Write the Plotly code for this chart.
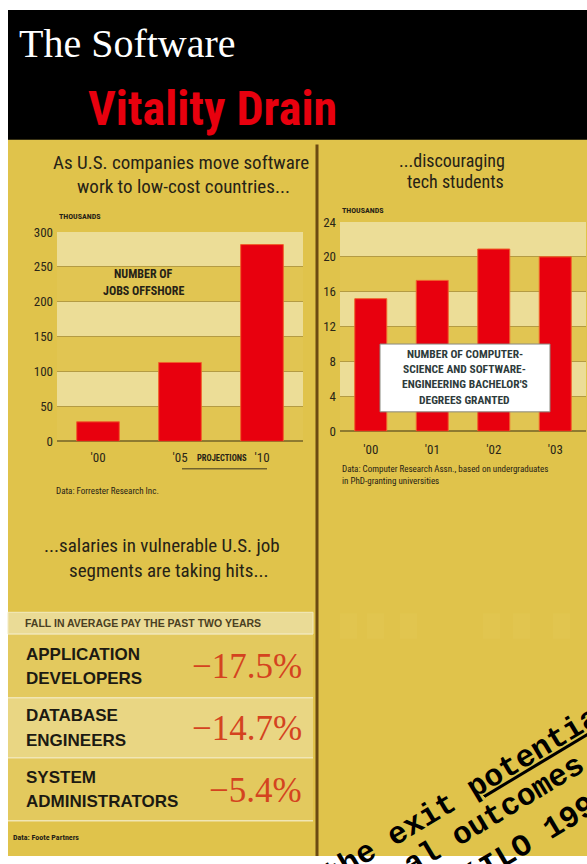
import plotly.graph_objects as go

W, H = 587, 864

# ---------------- data ----------------
jobs_years = ["'00", "'05", "'10"]
jobs_offshore = [28, 113, 282]            # thousands of jobs offshore
jobs_ticks = [0, 50, 100, 150, 200, 250, 300]

degree_years = ["'00", "'01", "'02", "'03"]
degrees = [15.2, 17.3, 20.9, 20.0]        # thousands of bachelor's degrees
degree_ticks = [0, 4, 8, 12, 16, 20, 24]

pay_roles = ["APPLICATION DEVELOPERS", "DATABASE ENGINEERS", "SYSTEM ADMINISTRATORS"]
pay_change = [-17.5, -14.7, -5.4]         # percent

# ---------------- styles ----------------
COND = "Liberation Sans Narrow, Roboto Condensed, DejaVu Sans Condensed, Liberation Sans, sans-serif"
SANS = "Liberation Sans, Arial, sans-serif"
SERIF = "Liberation Serif, Times New Roman, serif"
MONO = "Liberation Mono, Courier New, monospace"
BG = "#E0C34B"
LIGHT = "#ECDD97"
DARKBAND = "#E1C552"
GRID = "#B49B43"
RED = "#E8000E"
INK = "#262216"


def px(x):
    return x / W


def py(y):
    return 1 - y / H


shapes = []
annots = []


def rect(x0, y0, x1, y1, fill, line=None, lw=0, layer="below"):
    shapes.append(dict(type="rect", xref="paper", yref="paper",
                       x0=px(x0), x1=px(x1), y0=py(y1), y1=py(y0),
                       fillcolor=fill, line=dict(color=line or fill, width=lw),
                       layer=layer))


def hline(x0, x1, y, color, lw=1, layer="below"):
    shapes.append(dict(type="line", xref="paper", yref="paper",
                       x0=px(x0), x1=px(x1), y0=py(y), y1=py(y),
                       line=dict(color=color, width=lw), layer=layer))


def txt(s, x, y, size, color=INK, family=COND, xa="center", ya="middle",
        weight="normal", angle=0):
    annots.append(dict(text=s, x=px(x), y=py(y), xref="paper", yref="paper",
                       xanchor=xa, yanchor=ya, showarrow=False,
                       font=dict(size=size, color=color, family=family, weight=weight),
                       textangle=angle))


# ---------------- backgrounds ----------------
rect(8, 3, 587, 864, BG)
rect(8, 3, 587, 135, "#000000")
rect(315.5, 140, 318.5, 864, "#6B4A12")

# plot bands
for lo, hi in [(250, 300), (150, 200), (50, 100)]:
    shapes.append(dict(type="rect", xref="x domain", yref="y", x0=0, x1=1, y0=lo, y1=hi,
                       fillcolor=LIGHT, line=dict(width=0), layer="below"))
for lo, hi in [(200, 250), (100, 150), (0, 50)]:
    shapes.append(dict(type="rect", xref="x domain", yref="y", x0=0, x1=1, y0=lo, y1=hi,
                       fillcolor=DARKBAND, line=dict(width=0), layer="below"))
for lo, hi in [(20, 24), (12, 16), (4, 8)]:
    shapes.append(dict(type="rect", xref="x2 domain", yref="y2", x0=0, x1=1, y0=lo, y1=hi,
                       fillcolor=LIGHT, line=dict(width=0), layer="below"))
for lo, hi in [(16, 20), (8, 12), (0, 4)]:
    shapes.append(dict(type="rect", xref="x2 domain", yref="y2", x0=0, x1=1, y0=lo, y1=hi,
                       fillcolor=DARKBAND, line=dict(width=0), layer="below"))

# very faint panels in right column
for x0 in [340, 367, 400, 483, 513, 553]:
    rect(x0, 617, x0 + 17, 643, "#E1C54F")

# table
rect(8, 616, 313, 638, "#EADB96", "#F3EABF", 1)
row_y = [(638, 703), (703, 764), (764, 828)]
row_fill = ["#E3C95E", "#E9D683", "#E3C95E"]
for (y0, y1), f in zip(row_y, row_fill):
    rect(8, y0, 313, y1, f)
for y in [638, 703, 764, 828]:
    hline(8, 313, y, "#F1E6B4", 1.5)

# projections underline
hline(182, 267, 470, "#3a3320", 1)

# white label box on right chart
rect(380, 343, 550, 412, "#FFFFFF", "#8a8a80", 1, layer="above")

# ---------------- text ----------------
txt("The Software", 17, 37, 40, "#FFFFFF", SERIF, xa="left")
txt("Vitality Drain", 86, 103, 48, RED, COND, xa="left", weight="bold")

txt("As U.S. companies move software", 181, 158, 19)
txt("work to low-cost countries...", 183, 183, 19)
txt("THOUSANDS", 57, 213, 8, xa="left", weight="bold")
txt("NUMBER OF", 143, 272, 12, weight="bold")
txt("JOBS OFFSHORE", 143, 289, 12, weight="bold")
txt("PROJECTIONS", 222, 459, 8.5, weight="bold")
txt("Data: Forrester Research Inc.", 54, 493, 9, xa="left")

txt("...discouraging", 452, 156, 18)
txt("tech students", 455, 178, 18)
txt("THOUSANDS", 340, 207, 8, xa="left", weight="bold")
for i, line in enumerate(["NUMBER OF COMPUTER-", "SCIENCE AND SOFTWARE-",
                          "ENGINEERING BACHELOR'S", "DEGREES GRANTED"]):
    txt(line, 465, 353 + i * 15.5, 11.5, "#2E3B3B", weight="bold")
txt("Data: Computer Research Assn., based on undergraduates", 340, 470, 9, xa="left")
txt("in PhD-granting universities", 340, 482, 9, xa="left")

txt("...salaries in vulnerable U.S. job", 162, 548, 19)
txt("segments are taking hits...", 168, 573, 19)
txt("FALL IN AVERAGE PAY THE PAST TWO YEARS", 23, 627, 10.5, "#4A4022", SANS, xa="left", weight="bold")
for (y0, y1), role, val in zip(row_y, pay_roles, pay_change):
    first, second = role.split(" ", 1)
    mid = (y0 + y1) / 2
    txt(first, 24, mid - 12, 17, "#1C1A12", SANS, xa="left", weight="bold")
    txt(second, 24, mid + 13, 17, "#1C1A12", SANS, xa="left", weight="bold")
    txt("\u2212" + f"{abs(val):.1f}%", 304, mid + 1, 35, "#D4431F", SERIF, xa="right")
txt("Data: Foote Partners", 11, 845, 8, xa="left", weight="bold")

# rotated overlay text (bottom right)
txt("the exit <u>potential</u>", 469, 798, 31, "#000000", MONO, weight="bold", angle=-31)
txt("al outcomes", 494, 823, 31, "#000000", MONO, weight="bold", angle=-31)
txt("(ILO 1999)", 546, 840, 31, "#000000", MONO, weight="bold", angle=-31)

# ---------------- traces ----------------
fig = go.Figure()
fig.add_trace(go.Bar(x=jobs_years, y=jobs_offshore, xaxis="x", yaxis="y",
                     marker=dict(color=RED, line=dict(color="#F0602A", width=1)),
                     width=0.52, hoverinfo="skip"))
fig.add_trace(go.Bar(x=degree_years, y=degrees, xaxis="x2", yaxis="y2",
                     marker=dict(color=RED, line=dict(color="#F0602A", width=1)),
                     width=0.52, hoverinfo="skip"))

tickfont = dict(family=COND, size=13, color="#2a2618")

fig.update_layout(
    width=W, height=H, margin=dict(l=0, r=0, t=0, b=0),
    paper_bgcolor="#FFFFFF", plot_bgcolor="rgba(0,0,0,0)",
    showlegend=False, bargap=0.48,
    xaxis=dict(domain=[px(57), px(303)], type="category", categoryorder="array",
               categoryarray=jobs_years, showgrid=False, zeroline=False, showline=False,
               ticks="", tickfont=tickfont, anchor="y", fixedrange=True,
               ticklabelstandoff=7),
    yaxis=dict(domain=[py(442), py(229)], range=[0, 300], tickvals=jobs_ticks,
               showgrid=True, gridcolor=GRID, gridwidth=1, zeroline=True,
               zerolinecolor="#8E7A30", zerolinewidth=1.5, showline=False, ticks="",
               tickfont=tickfont, anchor="x", fixedrange=True, ticklabelstandoff=3),
    xaxis2=dict(domain=[px(340), px(586)], type="category", categoryorder="array",
                categoryarray=degree_years, showgrid=False, zeroline=False, showline=False,
                ticks="", tickfont=tickfont, anchor="y2", fixedrange=True,
                ticklabelstandoff=9),
    yaxis2=dict(domain=[py(431.7), py(218.8)], range=[0, 24], tickvals=degree_ticks,
                showgrid=True, gridcolor=GRID, gridwidth=1, zeroline=True,
                zerolinecolor="#8E7A30", zerolinewidth=1.5, showline=False, ticks="",
                tickfont=tickfont, anchor="x2", fixedrange=True, ticklabelstandoff=3),
    shapes=shapes, annotations=annots,
)

fig.write_html("out.html")
